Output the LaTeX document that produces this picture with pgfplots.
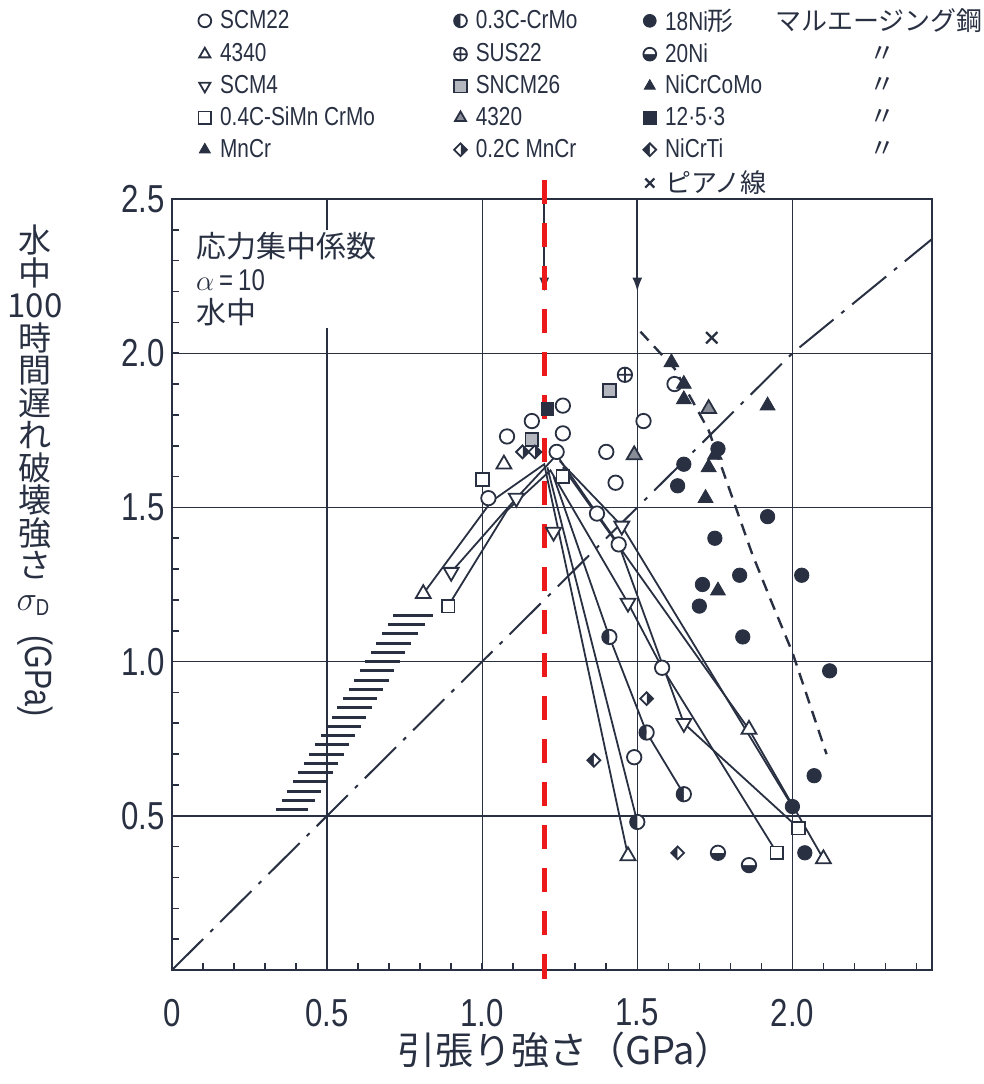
\documentclass[border=0pt]{standalone}
\usepackage{fontspec}
\setmainfont{Liberation Sans}[FakeStretch=0.8]
\newfontfamily\jp{Noto Sans CJK JP}
\usepackage{pgfplots}
\pgfplotsset{compat=1.18}
\usetikzlibrary{plotmarks,arrows.meta}
\definecolor{ink}{RGB}{40,48,66}
\definecolor{redline}{RGB}{235,25,25}
\pgfplotsset{
  mbase/.style={only marks, mark size=3.6pt, mark options={draw=ink, line width=0.9pt, fill=white}},
  sSCM/.style={mbase, mark=*},
  s4340/.style={mbase, mark=triangle*, mark size=4.3pt},
  sSCM4/.style={mbase, mark=triangle*, mark size=4.3pt, mark options={draw=ink, fill=white, line width=0.9pt, rotate=180}},
  sSiMn/.style={mbase, mark=square*, mark size=3.2pt},
  sMnCr/.style={mbase, mark=triangle*, mark size=4.3pt, mark options={draw=ink, fill=ink}},
  sCrMo/.style={mbase, mark=halfcircle*, mark options={draw=ink, fill=ink, line width=0.9pt, rotate=90}},
  sSUS/.style={mbase, mark=oplus},
  sSNCM/.style={mbase, mark=square*, mark size=3.2pt, mark options={draw=ink, fill=ink!35, line width=0.9pt}},
  s4320/.style={mbase, mark=triangle*, mark size=4.3pt, mark options={draw=ink, fill=ink!55, line width=0.9pt}},
  sMnCr2/.style={mbase, mark=halfsquare right*, mark size=3.2pt, mark options={draw=ink, fill=ink, line width=0.9pt}},
  sNi18/.style={mbase, mark=*, mark options={draw=ink, fill=ink}},
  sNi20/.style={mbase, mark=halfcircle*, mark options={draw=ink, fill=ink, line width=0.9pt, rotate=180}},
  sNiCrCoMo/.style={mbase, mark=triangle*, mark size=4.3pt, mark options={draw=ink, fill=ink}},
  s1253/.style={mbase, mark=square*, mark size=3.2pt, mark options={draw=ink, fill=ink}},
  sNiCrTi/.style={mbase, mark=halfsquare left*, mark size=3.2pt, mark options={draw=ink, fill=ink, line width=0.9pt}},
  sPiano/.style={only marks, mark=x, mark size=4pt, mark options={draw=ink, line width=1.1pt}},
  dl/.style={ink, line width=0.9pt, forget plot},
}
\begin{document}
\begin{tikzpicture}
\path[use as bounding box] (0,0) rectangle (492pt,542pt);
\begin{axis}[
  at={(86pt,57pt)}, anchor=south west,
  scale only axis, width=380pt, height=385.5pt,
  xmin=0, xmax=2.45, ymin=0, ymax=2.5,
  clip=false,
  axis line style={ink, line width=1pt},
  xtick={0,0.5,1,1.5,2}, xticklabels={0,0.5,1.0,1.5,2.0},
  ytick={0.5,1,1.5,2,2.5}, yticklabels={0.5,1.0,1.5,2.0,2.5},
  minor xtick={0.1,0.2,...,2.45},
  minor ytick={0.1,0.2,...,2.45},
  tick pos=left, tick align=inside,
  major tick length=0pt, minor tick length=3.5pt,
  minor tick style={ink, line width=0.8pt},
  grid=major, major grid style={ink, line width=0.7pt},
  ticklabel style={font=\fontsize{19.5}{19.5}\selectfont, text=ink},
  xticklabel style={yshift=-11pt},
  /pgf/number format/assume math mode=true,
  unbounded coords=jump,
  legend columns=3,
  legend cell align=left,
  legend image code/.code={\path (0cm,0cm) (0.36cm,0cm); \draw[mark repeat=2,mark phase=2,#1] plot coordinates {(0cm,0cm)(0.15cm,0cm)(0.36cm,0cm)};},
  legend image post style={mark size=3.2pt},
  legend style={at={(0.0309,1.2516)}, anchor=north west, draw=none, fill=none,
    font=\fontsize{13}{15}\selectfont, text=ink, inner sep=0pt, row sep=2pt,
    column sep=0pt, nodes={inner sep=1.5pt}},
]
% diagonal sigma_D = sigma_B
\addplot[ink, line width=1pt, dash pattern=on 22pt off 5pt on 2pt off 5pt, forget plot] coordinates {(0,0) (2.0,2.0) (2.45,2.37)};
% hatched band
\addplot[ink, line width=1.5pt, forget plot] coordinates {
(0.335,0.52)(0.440,0.52)(0.4,nan)
(0.353,0.55)(0.460,0.55)(0.4,nan)
(0.371,0.58)(0.480,0.58)(0.4,nan)
(0.389,0.61)(0.500,0.61)(0.4,nan)
(0.407,0.64)(0.518,0.64)(0.4,nan)
(0.425,0.67)(0.536,0.67)(0.4,nan)
(0.443,0.70)(0.554,0.70)(0.4,nan)
(0.461,0.73)(0.572,0.73)(0.4,nan)
(0.479,0.76)(0.590,0.76)(0.4,nan)
(0.497,0.79)(0.608,0.79)(0.4,nan)
(0.515,0.82)(0.626,0.82)(0.4,nan)
(0.533,0.85)(0.644,0.85)(0.4,nan)
(0.551,0.88)(0.662,0.88)(0.4,nan)
(0.569,0.91)(0.680,0.91)(0.4,nan)
(0.587,0.94)(0.698,0.94)(0.4,nan)
(0.605,0.97)(0.716,0.97)(0.4,nan)
(0.623,1.00)(0.734,1.00)(0.4,nan)
(0.641,1.03)(0.752,1.03)(0.4,nan)
(0.659,1.06)(0.772,1.06)(0.4,nan)
(0.677,1.09)(0.794,1.09)(0.4,nan)
(0.695,1.12)(0.817,1.12)(0.4,nan)
(0.713,1.15)(0.840,1.15)
};
% 18Ni boundary (dashed)
\addplot[ink, line width=1.2pt, dash pattern=on 6pt off 4pt, forget plot] coordinates {
(1.51,2.07)(1.62,1.95)(1.73,1.75)(1.80,1.55)(1.87,1.35)(1.93,1.20)(2.00,1.03)(2.05,0.88)(2.11,0.70)};
% arrows at top
\addplot[ink, line width=0.9pt, -{Latex[length=7pt,width=5pt]}, forget plot] coordinates {(1.2,2.5)(1.2,2.2)};
\addplot[ink, line width=0.9pt, -{Latex[length=7pt,width=5pt]}, forget plot] coordinates {(1.5,2.5)(1.5,2.2)};
% connecting lines
\addplot[dl] coordinates {(0.81,1.22)(1.03,1.52)(1.20,1.64)(1.47,0.37)};
\addplot[dl] coordinates {(1.26,1.63)(1.86,0.78)(2.10,0.36)};
\addplot[dl] coordinates {(0.90,1.29)(1.11,1.53)(1.24,1.67)(1.37,1.48)(1.44,1.38)(1.65,0.80)(2.02,0.46)};
\addplot[dl] coordinates {(0.89,1.18)(1.08,1.49)(1.22,1.62)(1.47,1.19)(1.58,0.98)(1.95,0.38)};
\addplot[dl] coordinates {(1.23,1.60)(1.41,1.08)(1.53,0.77)(1.65,0.57)};
\addplot[dl] coordinates {(1.21,1.63)(1.50,0.48)};
\addplot[dl] coordinates {(1.25,1.65)(1.45,1.44)(2.00,0.53)};
% markers
\addplot[sSCM, forget plot] coordinates {(1.02,1.53)(1.08,1.73)(1.16,1.78)(1.26,1.83)(1.26,1.74)(1.24,1.68)(1.37,1.48)(1.44,1.38)(1.40,1.68)(1.43,1.58)(1.52,1.78)(1.58,0.98)(1.49,0.69)(1.62,1.90)};
\addplot[s4340, forget plot] coordinates {(0.81,1.22)(1.07,1.64)(1.86,0.78)(2.10,0.36)(1.47,0.37)};
\addplot[sSCM4, forget plot] coordinates {(0.90,1.29)(1.11,1.53)(1.23,1.42)(1.45,1.44)(1.47,1.19)(1.65,0.80)};
\addplot[sSiMn, forget plot] coordinates {(0.89,1.18)(1.00,1.59)(1.95,0.38)(2.02,0.46)(1.26,1.60)};
\addplot[sCrMo, forget plot] coordinates {(1.41,1.08)(1.53,0.77)(1.65,0.57)(1.50,0.48)};
\addplot[sSUS, forget plot] coordinates {(1.46,1.93)};
\addplot[sSNCM, forget plot] coordinates {(1.41,1.88)(1.16,1.72)};
\addplot[s4320, forget plot] coordinates {(1.49,1.67)(1.73,1.82)};
\addplot[sMnCr2, forget plot] coordinates {(1.13,1.68)(1.17,1.68)(1.53,0.88)};
\addplot[sNi18, forget plot] coordinates {(1.65,1.64)(1.63,1.57)(1.76,1.69)(1.75,1.40)(1.83,1.28)(2.03,1.28)(1.71,1.25)(1.70,1.18)(1.84,1.08)(1.92,1.47)(2.12,0.97)(2.07,0.63)(2.00,0.53)(2.04,0.38)};
\addplot[sNi20, forget plot] coordinates {(1.76,0.38)(1.86,0.34)};
\addplot[sNiCrCoMo, forget plot] coordinates {(1.61,1.97)(1.65,1.90)(1.65,1.85)(1.73,1.63)(1.72,1.53)(1.76,1.23)(1.92,1.83)(1.75,1.67)};
\addplot[s1253, forget plot] coordinates {(1.21,1.82)};
\addplot[sNiCrTi, forget plot] coordinates {(1.36,0.68)(1.63,0.38)};
\addplot[sPiano, forget plot] coordinates {(1.74,2.05)};
% red reference line
\addplot[redline, line width=2.6pt, dash pattern=on 12pt off 9.5pt, forget plot] coordinates {(1.2,2.56)(1.2,-0.06)};
% legend (row-wise)
\addlegendimage{sSCM}\addlegendentry{\makebox[114.2pt][l]{SCM22}}
\addlegendimage{sCrMo}\addlegendentry{\makebox[81pt][l]{0.3C-CrMo}}
\addlegendimage{sNi18}\addlegendentry{\makebox[170pt][l]{\makebox[55pt][l]{18Ni{\jp 形}}{\jp マルエージング鋼}}}
\addlegendimage{s4340}\addlegendentry{4340}
\addlegendimage{sSUS}\addlegendentry{SUS22}
\addlegendimage{sNi20}\addlegendentry{\makebox[102pt][l]{20Ni}{\jp 〃}}
\addlegendimage{sSCM4}\addlegendentry{SCM4}
\addlegendimage{sSNCM}\addlegendentry{SNCM26}
\addlegendimage{sNiCrCoMo}\addlegendentry{\makebox[102pt][l]{NiCrCoMo}{\jp 〃}}
\addlegendimage{sSiMn}\addlegendentry{0.4C-SiMn CrMo}
\addlegendimage{s4320}\addlegendentry{4320}
\addlegendimage{s1253}\addlegendentry{\makebox[102pt][l]{12·5·3}{\jp 〃}}
\addlegendimage{sMnCr}\addlegendentry{MnCr}
\addlegendimage{sMnCr2}\addlegendentry{0.2C MnCr}
\addlegendimage{sNiCrTi}\addlegendentry{\makebox[102pt][l]{NiCrTi}{\jp 〃}}
\addlegendimage{empty legend}\addlegendentry{}
\addlegendimage{empty legend}\addlegendentry{}
\addlegendimage{sPiano}\addlegendentry{{\jp ピアノ線}}
% annotation
\node[anchor=north west, fill=white, inner sep=1pt, align=left, text=ink,
      font=\fontsize{15}{16.5}\selectfont] at (axis cs:0.07,2.40)
  {{\jp 応力集中係数}\\$\alpha$\,=\,10\\{\jp 水中}};
\end{axis}
% y label (vertical)
\node[anchor=north, align=center, text=ink, font=\jp\fontsize{16.5}{16.25}\selectfont]
  at (17.5pt,433pt) {水\\中\\100\\時\\間\\遅\\れ\\破\\壊\\強\\さ\\$\sigma_{\mathrm{D}}$};
\node[rotate=-90, text=ink, font=\fontsize{19}{19}\selectfont] at (17.5pt,204pt) {(GPa)};
% x label
\node[text=ink, font=\jp\fontsize{19}{19}\selectfont] at (282.5pt,17pt) {引張り強さ（GPa）};
\end{tikzpicture}
\end{document}
